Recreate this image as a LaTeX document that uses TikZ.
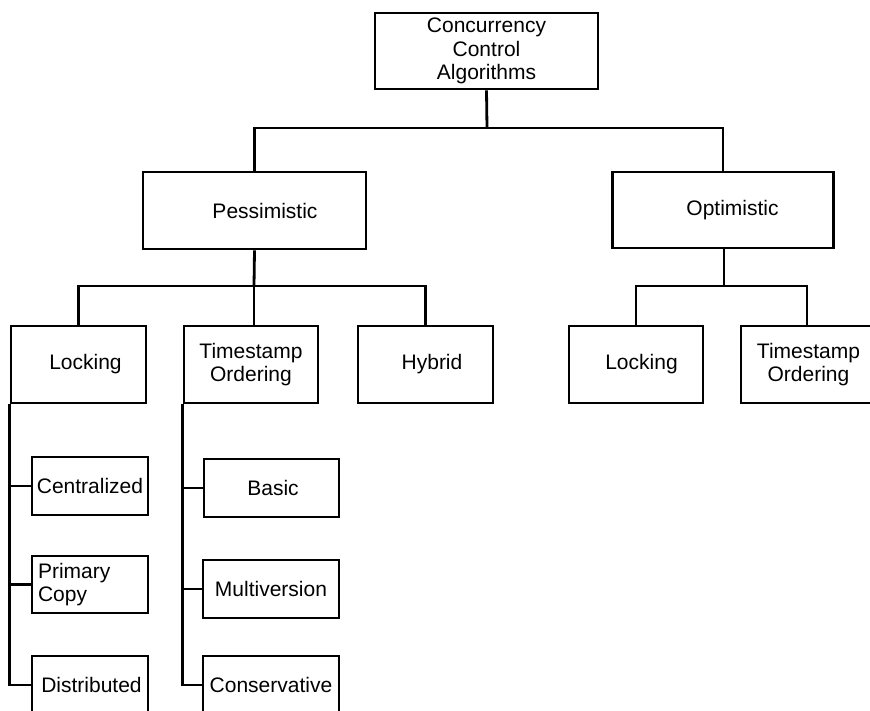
\documentclass[tikz,border=0pt]{standalone}
\usepackage{fontspec}
\setmainfont{Liberation Sans}
\usepackage{tikz}
\usetikzlibrary{positioning}

\begin{document}
\begin{tikzpicture}[x=1pt, y=-1pt, line width=2.8pt, every node/.style={draw, rectangle, line width=2.8pt, align=center, inner sep=3pt, font=\fontsize{21}{23.5}\selectfont}]
        \useasboundingbox (0,0) rectangle (870,711);

        \node (root) [minimum width=223pt, minimum height=76pt] at (486.5,51) {Concurrency\\Control\\Algorithms};

        \node (pess) [minimum width=223pt, minimum height=77pt] at (254.5,210.5) {\hspace*{21pt}Pessimistic};
        \node (opt) [minimum width=221pt, minimum height=76pt] at (723,210) {\hspace*{19pt}Optimistic};

        \node (lockP) [minimum width=135pt, minimum height=77pt] at (78.5,364.5) {\hspace*{14pt}Locking};
        \node (tsP) [minimum width=134pt, minimum height=77pt] at (251,364.5) {Timestamp\\Ordering};
        \node (hyb) [minimum width=135pt, minimum height=77pt] at (425.5,364.5) {\hspace*{13pt}Hybrid};
        \node (lockO) [minimum width=134pt, minimum height=77pt] at (636,364.5) {\hspace*{11pt}Locking};
        \node (tsO) [minimum width=135pt, minimum height=77pt] at (808.5,364.5) {Timestamp\\Ordering};

        \node (cent) [minimum width=116pt, minimum height=58pt] at (90,486) {Centralized};
        \node (prim) [minimum width=116pt, minimum height=57pt, inner xsep=6pt, text width=104pt, align=left] at (90,584.5) {Primary\\Copy};
        \node (dist) [minimum width=116pt, minimum height=58pt] at (90,685) {\hspace*{3pt}Distributed};

        \node (basic) [minimum width=135pt, minimum height=58pt] at (271.5,488) {\hspace*{3pt}Basic};
        \node (multi) [minimum width=136pt, minimum height=58pt] at (271,589) {Multiversion};
        \node (cons) [minimum width=136pt, minimum height=58pt] at (271,685) {Conservative};

        \coordinate (busA) at (487,128);
        \coordinate (busB) at (254,286);
        \coordinate (busC) at (724,286);

        \draw (root.south) -- (busA);
        \draw (pess.north) |- (busA) -| (opt.north);

        \draw (pess.south) -- (busB);
        \draw (lockP.north) |- (busB) -| (hyb.north);
        \draw (busB) -- (busB |- tsP.north);

        \draw (busC |- opt.south) -- (busC);
        \draw (busC) -| (lockO.north);
        \draw (busC) -| (807,326);

        \draw (lockP.south west) |- (dist.west);
        \draw (lockP.south west |- cent.west) -- (cent.west);
        \draw (lockP.south west |- prim.west) -- (prim.west);

        \draw (tsP.south west) |- (cons.west);
        \draw (tsP.south west |- basic.west) -- (basic.west);
        \draw (tsP.south west |- multi.west) -- (multi.west);
    \end{tikzpicture}
\end{document}
